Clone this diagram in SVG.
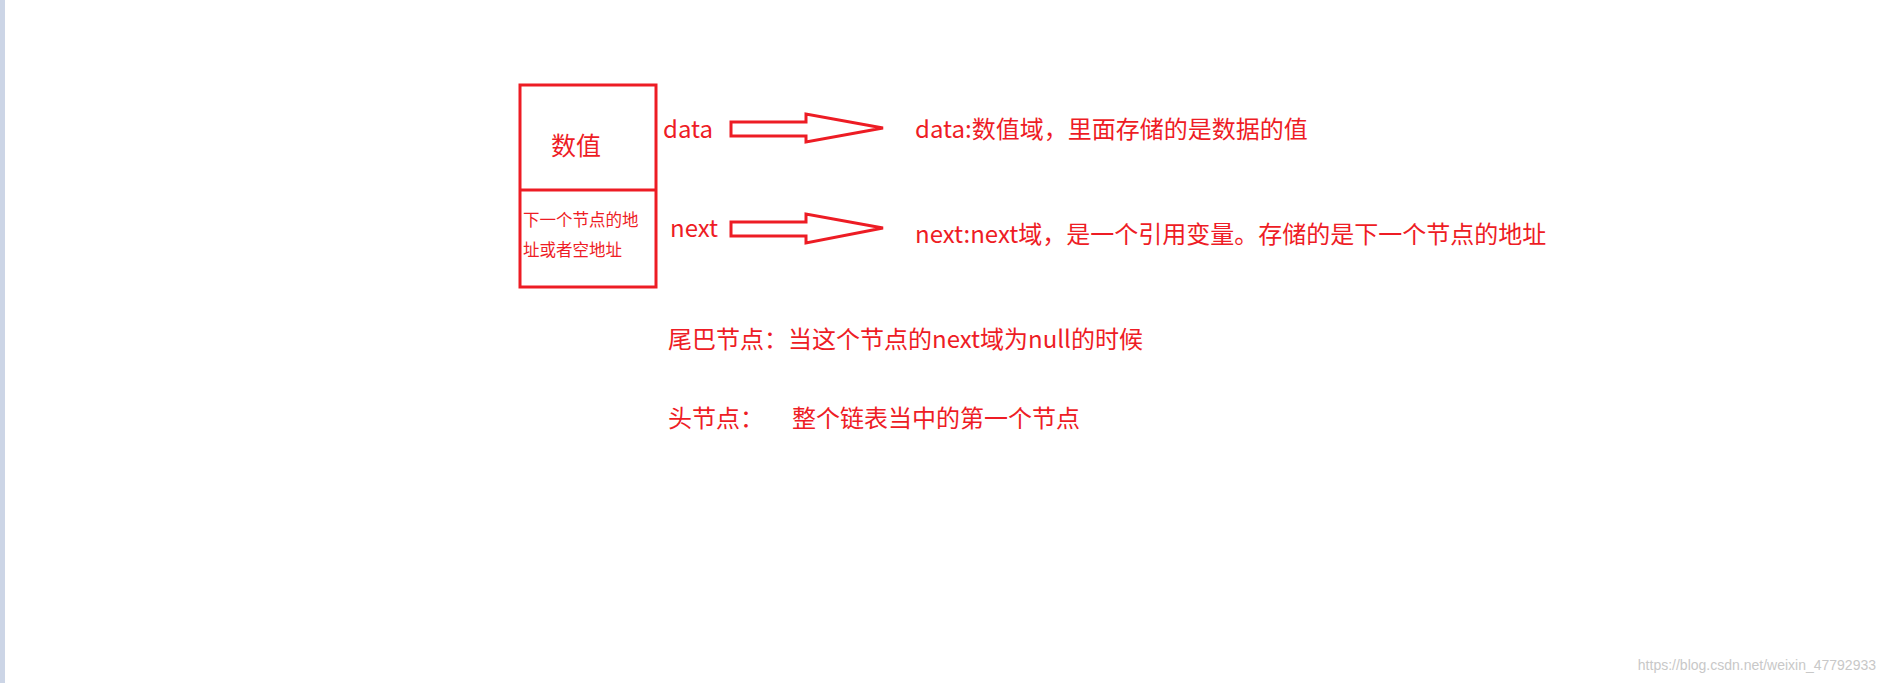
<svg xmlns="http://www.w3.org/2000/svg" width="1887" height="683" viewBox="0 0 1887 683">
<style>
.r{fill:#ee1c25;font-family:"Microsoft YaHei","Noto Sans CJK SC",sans-serif}
.ln{fill:none;stroke:#ed1c24;stroke-width:3}
</style>
<rect width="1887" height="683" fill="#fff"/>
<rect width="5" height="683" fill="#ccd5e6"/>
<g id="node">
<rect class="ln" x="520" y="85" width="136" height="202"/>
<line class="ln" x1="520" y1="190" x2="656" y2="190"/>
<text class="r" x="551" y="155" font-size="25">数值</text>
<text class="r" x="523" y="226" font-size="16.5">下一个节点的地</text>
<text class="r" x="523" y="256" font-size="16.5">址或者空地址</text>
</g>
<g id="labels">
<text class="r" x="663" y="138" font-size="24">data</text>
<text class="r" x="670" y="237" font-size="24">next</text>
<text class="r" x="915" y="138" font-size="24">data:数值域，里面存储的是数据的值</text>
<text class="r" x="915" y="243" font-size="24">next:next域，是一个引用变量。存储的是下一个节点的地址</text>
<text class="r" x="668" y="348" font-size="24">尾巴节点：当这个节点的next域为null的时候</text>
<text class="r" x="668" y="427" font-size="24">头节点：</text>
<text class="r" x="792" y="427" font-size="24">整个链表当中的第一个节点</text>
</g>
<g id="connectors">
<polygon class="ln" points="731,122 806,122 806,114 883,128 806,142 806,136 731,136"/>
<polygon class="ln" points="731,222 806,222 806,214 883,228 806,243 806,236 731,236"/>
</g>
<text x="1876" y="670" text-anchor="end" font-size="14" fill="#c8c8c8" font-family="Liberation Sans,sans-serif">https://blog.csdn.net/weixin_47792933</text>
</svg>
